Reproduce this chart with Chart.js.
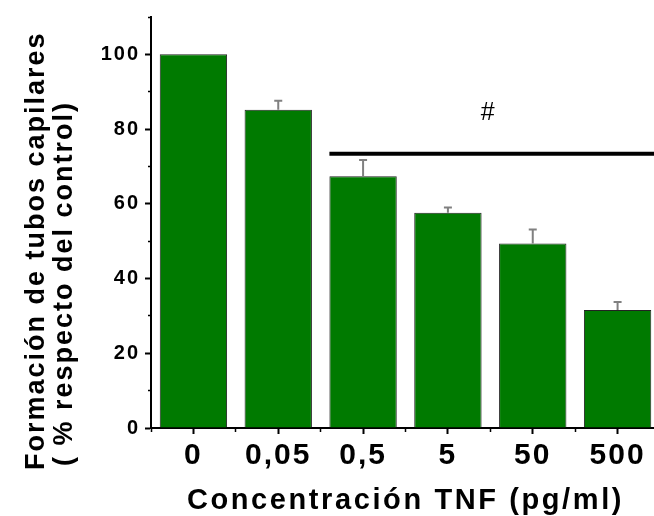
<!DOCTYPE html>
<html>
<head>
<meta charset="utf-8">
<title>Formación de tubos capilares</title>
<script src="https://cdn.jsdelivr.net/npm/chart.js@4"></script>
<style>
    html, body { margin: 0; padding: 0; background: #fff; overflow: hidden; }
    .chart-box { position: relative; width: 660px; height: 516px; }
</style>
</head>
<body>
<div class="chart-box"><canvas id="tnfChart"></canvas></div>
<script>
// TNF dose (pg/ml) vs capillary tube formation, % of control (mean + SEM)
const concentrations = ['0', '0,05', '0,5', '5', '50', '500'];
const tubeFormation = [100, 85.2, 67.4, 57.6, 49.4, 31.6];
const tubeFormationSem = [0, 2.4, 4.3, 1.4, 3.7, 2.1];

const yMajorTicks = [0, 20, 40, 60, 80, 100];
const yMinorTicks = [10, 30, 50, 70, 90, 110];
const yMax = 110;

// significance bar over the treated groups
const sigLevel = 73.4;
const sigFromIndex = 2;
const sigMark = '#';
const sigMarkPos = [3.47, 84.2]; // [category position, y value]

const xTitle = 'Concentración TNF (pg/ml)';
const yTitle = ['Formación de tubos capilares', '( % respecto del control)'];

const fontFamily = "'Liberation Sans', Arial, sans-serif";
const barGreen = '#007a00';

Chart.defaults.font.family = fontFamily;
Chart.defaults.color = '#000';

// the figure's lettering is set a little wide
const textSpacing = {
    id: 'textSpacing',
    beforeLayout(chart) { chart.ctx.letterSpacing = '2px'; },
    beforeDraw(chart) { chart.ctx.letterSpacing = '2px'; }
};

const errorBars = {
    id: 'errorBars',
    afterDatasetsDraw(chart) {
        const { ctx, scales: { y } } = chart;
        const bars = chart.getDatasetMeta(0).data;
        ctx.save();
        ctx.strokeStyle = '#808080';
        ctx.lineWidth = 2;
        bars.forEach((bar, i) => {
            const err = tubeFormationSem[i];
            if (!err) return;
            const top = y.getPixelForValue(tubeFormation[i] + err);
            ctx.beginPath();
            ctx.moveTo(bar.x, bar.y);
            ctx.lineTo(bar.x, top);
            ctx.moveTo(bar.x - 4, top);
            ctx.lineTo(bar.x + 4, top);
            ctx.stroke();
        });
        ctx.restore();
    }
};

const significance = {
    id: 'significance',
    afterDatasetsDraw(chart) {
        const { ctx, chartArea, scales: { x, y } } = chart;
        const first = chart.getDatasetMeta(0).data[sigFromIndex];
        const lineY = y.getPixelForValue(sigLevel);
        ctx.save();
        ctx.strokeStyle = '#000';
        ctx.lineWidth = 4;
        ctx.beginPath();
        ctx.moveTo(first.x - first.width / 2, lineY);
        ctx.lineTo(chartArea.right, lineY);
        ctx.stroke();

        const step = x.getPixelForValue(1) - x.getPixelForValue(0);
        const markX = x.getPixelForValue(0) + sigMarkPos[0] * step;
        ctx.letterSpacing = '0px';
        ctx.font = `25px ${fontFamily}`;
        ctx.fillStyle = '#000';
        ctx.textAlign = 'center';
        ctx.textBaseline = 'middle';
        ctx.fillText(sigMark, markX, y.getPixelForValue(sigMarkPos[1]));
        ctx.restore();
    }
};

// axis titles drawn by hand so the rotated pair of lines sits like the original
const axisTitles = {
    id: 'axisTitles',
    afterDraw(chart) {
        const { ctx, chartArea } = chart;
        ctx.save();
        ctx.fillStyle = '#000';

        ctx.font = `bold 29px ${fontFamily}`;
        ctx.letterSpacing = '2.6px';
        ctx.textAlign = 'center';
        ctx.textBaseline = 'middle';
        ctx.fillText(xTitle, (chartArea.left + chartArea.right) / 2, 501);

        ctx.font = `bold 27px ${fontFamily}`;
        ctx.letterSpacing = '2px';
        ctx.textAlign = 'left';
        ctx.textBaseline = 'alphabetic';
        const anchors = [[44, 470], [72, 466]];
        yTitle.forEach((line, i) => {
            ctx.save();
            ctx.translate(anchors[i][0], anchors[i][1]);
            ctx.rotate(-Math.PI / 2);
            ctx.fillText(line, 0, 0);
            ctx.restore();
        });
        ctx.restore();
    }
};

const tickFont = (size) => ({ family: fontFamily, size: size, weight: 'bold' });

new Chart(document.getElementById('tnfChart'), {
    type: 'bar',
    data: {
        labels: concentrations,
        datasets: [{
            data: tubeFormation,
            backgroundColor: barGreen,
            borderColor: '#222',
            borderWidth: 1,
            barPercentage: 0.794,
            categoryPercentage: 1
        }]
    },
    options: {
        responsive: true,
        maintainAspectRatio: false,
        animation: false,
        layout: { padding: { top: 15, left: 0, right: 0, bottom: 0 } },
        plugins: {
            legend: { display: false },
            tooltip: { enabled: false }
        },
        scales: {
            x: {
                offset: true,
                grid: { offset: false, drawOnChartArea: false, tickLength: 6, tickWidth: 2, tickColor: '#000' },
                border: { color: '#000', width: 2 },
                ticks: { font: tickFont(30), color: '#000', padding: 4, maxRotation: 0, autoSkip: false },
                afterFit(scale) { scale.height = 88; }
            },
            xMinor: {
                type: 'category',
                position: 'bottom',
                weight: -1,
                offset: true,
                grid: { offset: true, drawOnChartArea: false, tickLength: 4, tickWidth: 1.5, tickColor: '#000' },
                border: { display: false },
                ticks: { display: false },
                afterFit(scale) { scale.height = 0; }
            },
            y: {
                min: 0,
                max: yMax,
                grid: { drawOnChartArea: false, tickLength: 6, tickWidth: 2, tickColor: '#000' },
                border: { color: '#000', width: 2 },
                ticks: { font: tickFont(20), color: '#000', padding: 5 },
                afterBuildTicks(scale) { scale.ticks = yMajorTicks.map(v => ({ value: v })); },
                afterFit(scale) { scale.width = 151; }
            },
            yMinor: {
                type: 'linear',
                position: 'left',
                weight: -1,
                min: 0,
                max: yMax,
                grid: { drawOnChartArea: false, tickLength: 3, tickWidth: 1.5, tickColor: '#000' },
                border: { display: false },
                ticks: { display: false },
                afterBuildTicks(scale) { scale.ticks = yMinorTicks.map(v => ({ value: v })); },
                afterFit(scale) { scale.width = 0; }
            }
        }
    },
    plugins: [textSpacing, errorBars, significance, axisTitles]
});
</script>
</body>
</html>
